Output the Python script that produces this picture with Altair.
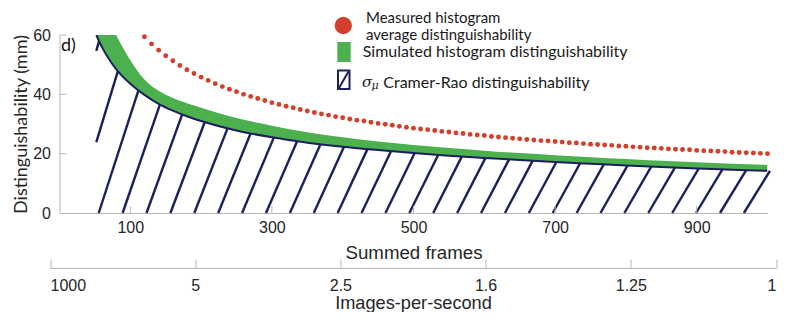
import altair as alt
import pandas as pd
import numpy as np

# ---------------- data ----------------
red_frames = list(range(120, 1001, 10))
red_vals = [59.4, 57.0, 54.9, 53.0, 51.3, 49.7, 48.3, 47.0, 45.8, 44.7,
            43.6, 42.6, 41.7, 40.9, 40.0, 39.3, 38.6, 37.9, 37.2, 36.6,
            36.0, 35.5, 34.9, 34.4, 33.9, 33.4, 33.0, 32.5, 32.1, 31.7,
            31.3, 31.0, 30.6, 30.2, 29.9, 29.6, 29.2, 28.9, 28.6, 28.3,
            28.1, 27.8, 27.5, 27.3, 27.0, 26.8, 26.5, 26.3, 26.1, 25.8,
            25.6, 25.4, 25.2, 25.0, 24.8, 24.6, 24.4, 24.3, 24.1, 23.9,
            23.7, 23.6, 23.4, 23.2, 23.1, 22.9, 22.8, 22.6, 22.5, 22.3,
            22.2, 22.0, 21.9, 21.8, 21.6, 21.5, 21.4, 21.3, 21.1, 21.0,
            20.9, 20.8, 20.7, 20.5, 20.4, 20.3, 20.2, 20.1, 20.0]

curve_frames = [52, 60, 70, 80, 90, 100, 120, 140, 160, 180, 200, 250, 300,
                350, 400, 450, 500, 550, 600, 650, 700, 750, 800, 850, 900,
                950, 1000]
cr_vals = [60.0, 55.9, 51.8, 48.5, 45.8, 43.6, 39.8, 36.8, 34.5, 32.6, 31.0,
           27.8, 25.5, 23.7, 22.3, 21.2, 20.2, 19.3, 18.5, 17.9, 17.2, 16.6,
           16.0, 15.5, 15.0, 14.6, 14.2]
sim_vals = [80.0, 72.0, 65.0, 60.0, 55.5, 51.5, 45.0, 41.2, 38.8, 37.0, 35.5,
            32.0, 29.4, 27.2, 25.5, 24.1, 22.9, 21.9, 21.0, 20.2, 19.5, 18.8,
            18.2, 17.6, 17.1, 16.6, 16.2]

x_ticks = [100, 300, 500, 700, 900]
y_ticks = [0, 20, 40, 60]
ips_pos = [0, 200, 400, 600, 800, 1000]
ips_labels = ["1000", "5", "2.5", "1.6", "1.25", "1"]

# ---------------- styling ----------------
W, H = 708, 178
NAVY = "#1b1f5e"
GREEN = "#4cb04f"
RED = "#d23f2b"
GRAY = "#b8b8b8"
TXT = "#262626"

# ---------------- derived tables ----------------
curve_df = pd.DataFrame({"frame": curve_frames, "cr": cr_vals, "sim": sim_vals})
red_df = pd.DataFrame({"frame": red_frames, "val": red_vals})

# hatch segments under the Cramer-Rao curve (decoration derived from the curve)
cf = np.array(curve_frames, float)
cv = np.array(cr_vals, float)
px_per_frame = W / 1000.0
px_per_unit = H / 60.0
hatch_a, hatch_b = 18.9, 0.17      # top offset (px) = a + b * height(px)
rows = []
for k in range(-3, 28):
    xb = 55.4 + 33.75 * k
    xt = xb + 30.0
    for _ in range(60):
        h = np.interp(xt, cf, cv)
        xt = xb + (hatch_a + hatch_b * h * px_per_unit) / px_per_frame
    yt = float(np.interp(xt, cf, cv))
    if xt <= cf[0]:
        continue
    x0, y0 = xb, 0.0
    if xb < cf[0]:
        y0 = yt * (cf[0] - xb) / (xt - xb)
        x0 = cf[0]
    rows.append({"hx": x0, "hy": y0, "hx2": xt, "hy2": yt})
hatch_df = pd.DataFrame(rows)

xaxis = alt.Axis(values=x_ticks, title="Summed frames", grid=False, ticks=False,
                 tickSize=0, domainColor=GRAY, domainWidth=1,
                 labelFont="Liberation Sans", labelFontSize=16, labelColor=TXT,
                 labelPadding=6, titleFont="Liberation Sans", titleFontSize=18.7,
                 titleFontWeight="normal", titleColor=TXT, titlePadding=8)
yaxis = alt.Axis(values=y_ticks, title="Distinguishability (mm)", grid=False,
                 ticks=False, tickSize=0, domainColor=GRAY, domainWidth=1,
                 labelFont="Liberation Sans", labelFontSize=16, labelColor=TXT,
                 labelPadding=9, titleFont="Lato", titleFontSize=18,
                 titleFontWeight="normal", titleColor=TXT, titlePadding=2)
xs = alt.Scale(domain=[0, 1000], nice=False, zero=False)
ys = alt.Scale(domain=[0, 60], nice=False)


def X(f):
    return alt.X(f, type="quantitative", scale=xs, axis=xaxis)


def Y(f):
    return alt.Y(f, type="quantitative", scale=ys, axis=yaxis)


hatch = alt.Chart(hatch_df).mark_rule(color=NAVY, strokeWidth=2.4).encode(
    x=X("hx"), y=Y("hy"), x2="hx2", y2="hy2")
area = alt.Chart(curve_df).mark_area(color=GREEN, interpolate="monotone", clip=True).encode(
    x=X("frame"), y=Y("sim"), y2="cr")
line = alt.Chart(curve_df).mark_line(color=NAVY, strokeWidth=2, interpolate="monotone", clip=True).encode(
    x=X("frame"), y=Y("cr"))
dots = alt.Chart(red_df).mark_circle(color=RED, size=24, opacity=1).encode(
    x=X("frame"), y=Y("val"))
xt_rules = alt.Chart(pd.DataFrame({"t": x_ticks})).mark_rule(color=GRAY).encode(
    x=X("t"), y=alt.value(H), y2=alt.value(H - 7))
yt_rules = alt.Chart(pd.DataFrame({"t": y_ticks[1:]})).mark_rule(color=GRAY).encode(
    y=Y("t"), x=alt.value(0), x2=alt.value(7))
dlabel = alt.Chart(pd.DataFrame({"a": [0]})).mark_text(
    text="d)", font="Lato", fontSize=18, color="#111111", align="left", baseline="middle"
).encode(x=alt.value(1.5), y=alt.value(10.5))

main = alt.layer(hatch, area, line, dots, xt_rules, yt_rules, dlabel)

# ---------------- secondary axis (Images-per-second) ----------------
label_expr = ""
for p, l in zip(ips_pos, ips_labels):
    label_expr += f"datum.value == {p} ? '{l}' : "
label_expr += "''"
ips_df = pd.DataFrame({"pos": ips_pos})
ips_scale = alt.Scale(domain=[0, 1000], range=[-9.5, 716.5], nice=False, zero=False)
ips_ticks = alt.Chart(ips_df).mark_point(opacity=0).encode(
    x=alt.X("pos:Q", scale=ips_scale,
            axis=alt.Axis(orient="bottom", offset=46, values=ips_pos, domain=False,
                          labels=False, title=None, grid=False, ticks=True,
                          tickSize=9, tickColor=GRAY, tickWidth=1)),
    y=alt.value(0))
ips_axis = alt.Chart(ips_df).mark_point(opacity=0).encode(
    x=alt.X("pos:Q", scale=ips_scale,
            axis=alt.Axis(orient="bottom", offset=55, values=ips_pos, domain=True,
                          domainColor=GRAY, ticks=False, tickSize=0, grid=False,
                          labelExpr=label_expr, labelFont="Liberation Sans",
                          labelFontSize=16, labelColor=TXT, labelPadding=9,
                          title="Images-per-second", titleFont="Liberation Sans",
                          titleFontSize=18.2, titleFontWeight="normal",
                          titleColor=TXT, titlePadding=1)),
    y=alt.value(0))

# ---------------- legend ----------------
one = pd.DataFrame({"a": [0]})
LF = "Lato"
leg_red = alt.Chart(one).mark_circle(color=RED, size=300, opacity=1).encode(
    x=alt.value(283.8), y=alt.value(-9.5))
leg_t1 = alt.Chart(one).mark_text(text="Measured histogram", font=LF, fontSize=15,
                                  color="#1a1a1a", align="left", baseline="middle").encode(
    x=alt.value(306.5), y=alt.value(-17.5))
leg_t1b = alt.Chart(one).mark_text(text="average distinguishability", font=LF, fontSize=15,
                                   color="#1a1a1a", align="left", baseline="middle").encode(
    x=alt.value(306.5), y=alt.value(-0.5))
leg_green = alt.Chart(one).mark_rect(color=GREEN).encode(
    x=alt.value(277.8), x2=alt.value(291.2), y=alt.value(7), y2=alt.value(27))
leg_t2 = alt.Chart(one).mark_text(text="Simulated histogram distinguishability", font=LF,
                                  fontSize=16, color="#1a1a1a", align="left",
                                  baseline="middle").encode(
    x=alt.value(303.2), y=alt.value(17))
leg_box = alt.Chart(one).mark_rect(fill="white", stroke=NAVY, strokeWidth=2).encode(
    x=alt.value(278.5), x2=alt.value(290), y=alt.value(35.5), y2=alt.value(54))
leg_diag = alt.Chart(one).mark_rule(color=NAVY, strokeWidth=2).encode(
    x=alt.value(279.5), y=alt.value(53), x2=alt.value(289), y2=alt.value(36.5))
leg_sigma = alt.Chart(one).mark_text(text="σ", font="DejaVu Serif", fontStyle="italic",
                                     fontSize=15, color="#1a1a1a", align="left",
                                     baseline="middle").encode(
    x=alt.value(302.5), y=alt.value(46.5))
leg_mu = alt.Chart(one).mark_text(text="μ", font="DejaVu Serif", fontStyle="italic",
                                  fontSize=11, color="#1a1a1a", align="left",
                                  baseline="middle").encode(
    x=alt.value(312), y=alt.value(51))
leg_t3 = alt.Chart(one).mark_text(text="Cramer-Rao distinguishability", font=LF,
                                  fontSize=16, color="#1a1a1a", align="left",
                                  baseline="middle").encode(
    x=alt.value(323.8), y=alt.value(47.7))

chart = alt.layer(
    main, ips_ticks, ips_axis,
    leg_red, leg_t1, leg_t1b, leg_green, leg_t2, leg_box, leg_diag, leg_sigma,
    leg_mu, leg_t3
).resolve_scale(x="independent").properties(
    width=W, height=H, autosize="none",
    padding={"left": 51.5, "top": 27, "right": 13.5, "bottom": 99},
).configure_view(stroke=None)

chart.save("out.html", embed_options={"renderer": "svg", "actions": False})
